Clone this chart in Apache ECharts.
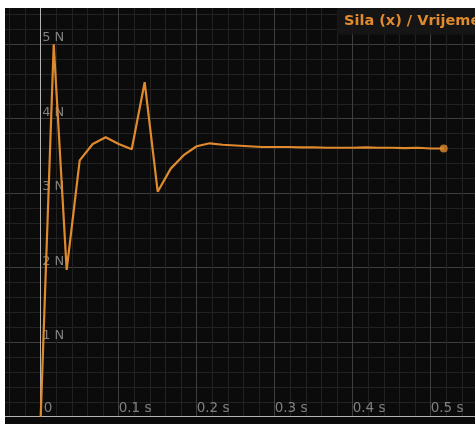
<!DOCTYPE html>
<html>
<head>
<meta charset="utf-8">
<script src="https://cdn.jsdelivr.net/npm/echarts@6/dist/echarts.min.js"></script>
<style>
  html, body { margin: 0; padding: 0; background: #ffffff; }
  #chart { position: absolute; left: 5px; top: 8px; width: 470px; height: 416px; background: #0b0b0b; }
</style>
</head>
<body>
<div id="chart"></div>
<script>
// Sample times (s), ~60 Hz
const times = [0, 0.0167, 0.0333, 0.05, 0.0667, 0.0833, 0.1, 0.1167, 0.1333, 0.15,
  0.1667, 0.1833, 0.2, 0.2167, 0.2333, 0.25, 0.2667, 0.2833, 0.3, 0.3167,
  0.3333, 0.35, 0.3667, 0.3833, 0.4, 0.4167, 0.4333, 0.45, 0.4667, 0.4833,
  0.5, 0.5167];
// Force along x (N)
const force = [0, 5.0, 1.97, 3.44, 3.66, 3.75, 3.66, 3.59, 4.49, 3.02,
  3.33, 3.51, 3.63, 3.67, 3.65, 3.64, 3.63, 3.62, 3.62, 3.62,
  3.615, 3.615, 3.61, 3.61, 3.61, 3.615, 3.61, 3.61, 3.605, 3.61,
  3.60, 3.60];

// Tick labels
const xTickValues = [0, 0.1, 0.2, 0.3, 0.4, 0.5];
const xTickLabels = ['0', '0.1 s', '0.2 s', '0.3 s', '0.4 s', '0.5 s'];
const yTickValues = [1, 2, 3, 4, 5];
const yTickLabels = ['1 N', '2 N', '3 N', '4 N', '5 N'];

const titleText = 'Sila (x) / Vrijeme';

const ORANGE = '#e08a2e';
const MINOR = '#222222';
const MAJOR = '#3e3e3e';
const AXIS = '#b4b4b4';
const LABEL = '#808080';

// The plot area extends past the visible canvas so the grid fills every edge.
const GRID_LEFT = -42.3;
const Y_AXIS_X = 35.7; // x = 0 line, relative to the chart box

function lookup(values, labels, v) {
  for (let i = 0; i < values.length; i++) {
    if (Math.abs(values[i] - v) < 1e-6) return labels[i];
  }
  return '';
}

const points = times.map((t, i) => [t, force[i]]);
const last = points[points.length - 1];

const chart = echarts.init(document.getElementById('chart'), null, { renderer: 'canvas' });
chart.setOption({
  backgroundColor: '#0b0b0b',
  animation: false,
  title: {
    text: titleText,
    left: 332,
    top: 0,
    padding: [6, 7, 6, 7],
    backgroundColor: 'rgba(22,22,22,0.9)',
    textStyle: {
      color: ORANGE,
      fontFamily: 'DejaVu Sans',
      fontWeight: 'bold',
      fontSize: 14.5,
      lineHeight: 14
    }
  },
  grid: {
    left: GRID_LEFT,
    right: -33.7,
    top: -38.3,
    bottom: 7.3,
    containLabel: false,
    outerBoundsMode: 'none'
  },
  xAxis: {
    type: 'value',
    min: -0.1,
    max: 0.6,
    interval: 0.1,
    axisLine: { show: true, onZero: true, lineStyle: { color: AXIS, width: 1 } },
    axisTick: { show: false },
    axisLabel: {
      inside: true,
      margin: 2,
      align: 'left',
      verticalAlign: 'bottom',
      lineHeight: 13,
      color: LABEL,
      fontFamily: 'DejaVu Sans',
      fontSize: 13.5,
      formatter: v => {
        const s = lookup(xTickValues, xTickLabels, v);
        // the origin label sits clear of the vertical axis line
        return Math.abs(v) < 1e-9 ? '{o|' + s + '}' : s;
      },
      rich: {
        o: {
          padding: [0, 0, 0, 3],
          color: LABEL,
          fontFamily: 'DejaVu Sans',
          fontSize: 13.5,
          lineHeight: 13
        }
      }
    },
    splitLine: { show: true, lineStyle: { color: MAJOR, width: 1 } },
    minorTick: { show: false, splitNumber: 5 },
    minorSplitLine: { show: true, lineStyle: { color: MINOR, width: 1 } }
  },
  yAxis: {
    type: 'value',
    min: 0,
    max: 6,
    interval: 1,
    axisLine: { show: true, onZero: true, lineStyle: { color: AXIS, width: 1 } },
    axisTick: { show: false },
    axisLabel: {
      inside: true,
      margin: Y_AXIS_X - GRID_LEFT + 1.5,
      align: 'left',
      verticalAlign: 'bottom',
      lineHeight: 13,
      color: LABEL,
      fontFamily: 'DejaVu Sans',
      fontSize: 13,
      formatter: v => lookup(yTickValues, yTickLabels, v)
    },
    splitLine: { show: true, lineStyle: { color: MAJOR, width: 1 } },
    minorTick: { show: false, splitNumber: 5 },
    minorSplitLine: { show: true, lineStyle: { color: MINOR, width: 1 } }
  },
  series: [
    {
      type: 'line',
      data: points,
      showSymbol: false,
      symbol: 'none',
      lineStyle: { color: ORANGE, width: 2.2 },
      z: 3
    },
    {
      type: 'scatter',
      data: [last],
      symbol: 'circle',
      symbolSize: 8,
      itemStyle: { color: ORANGE },
      z: 4
    }
  ]
});
</script>
</body>
</html>
